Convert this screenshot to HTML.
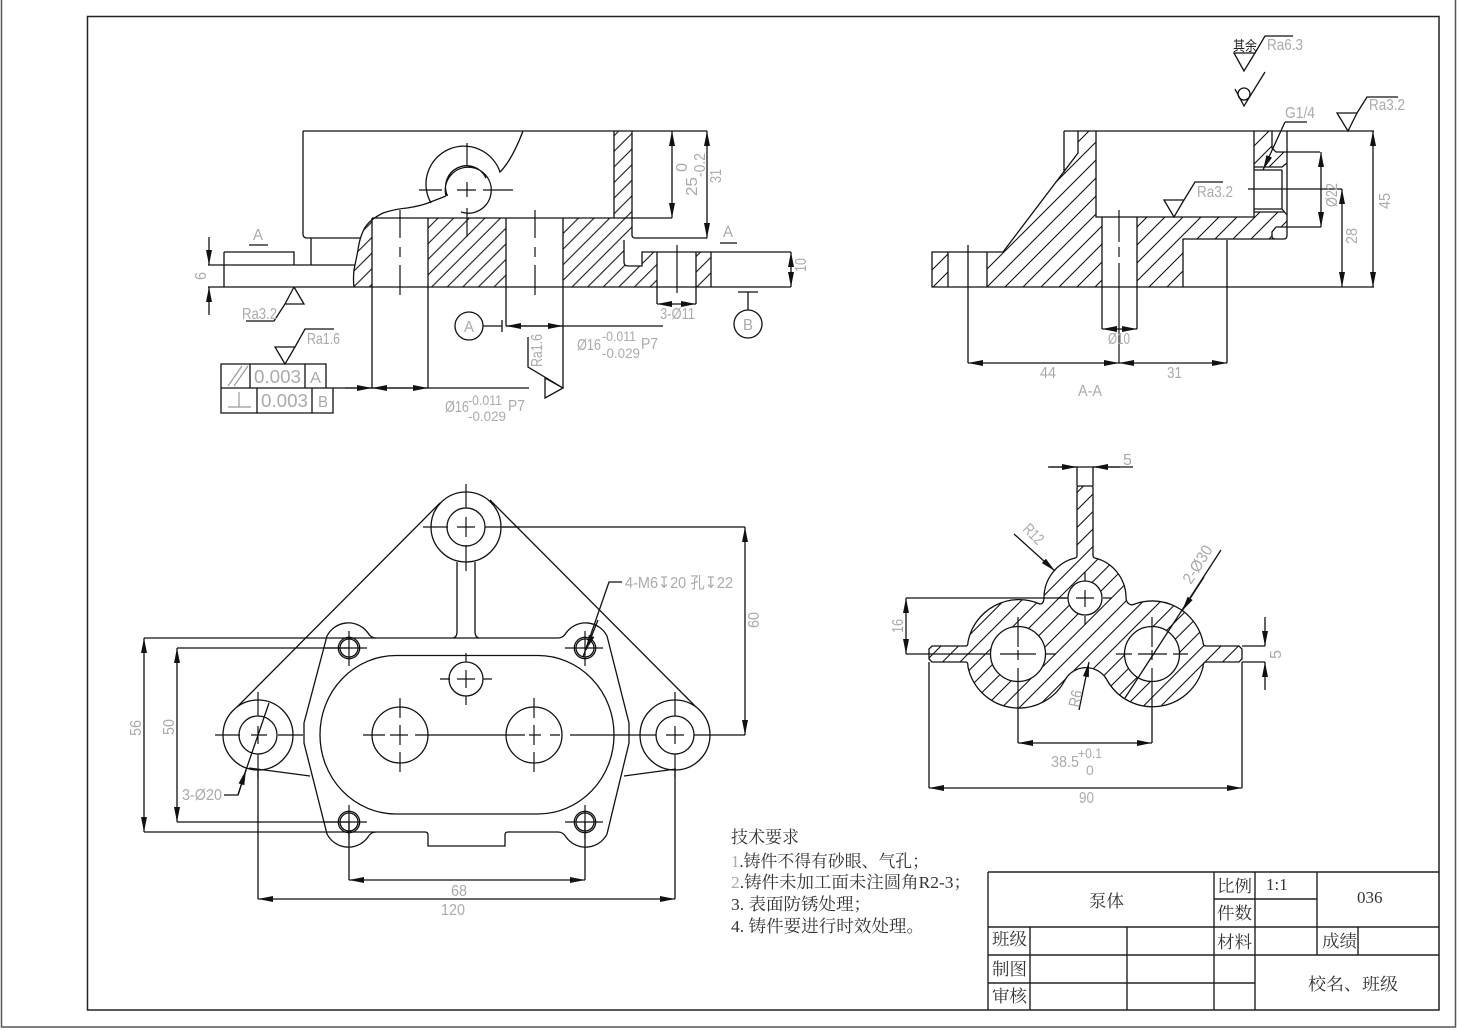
<!DOCTYPE html>
<html><head><meta charset="utf-8"><style>
html,body{margin:0;padding:0;background:#fff;width:1457px;height:1031px;overflow:hidden}
svg{display:block}
.l{fill:none;stroke:#111;stroke-width:1.3}
.w{fill:#fff;stroke:#111;stroke-width:1.3}
.c{fill:none;stroke:#111;stroke-width:1.2}
.da{fill:none;stroke:#111;stroke-width:1.3;marker-start:url(#a);marker-end:url(#a)}
.a1{fill:none;stroke:#111;stroke-width:1.3;marker-end:url(#a)}
.h1{fill:url(#h1);stroke:none}
.h2{fill:url(#h2);stroke:none}
.h3{fill:url(#h3);stroke:none}
text{font-family:"Liberation Sans","Noto Sans CJK SC",sans-serif}
.d{fill:#aaa;font-size:16px}
.s{fill:#aaa;font-size:14px}
.z{font-family:"Liberation Serif","Noto Serif CJK SC",serif;fill:#333;font-size:17px}
.g{fill:#aaa}
</style></head><body>
<svg width="1457" height="1031" viewBox="0 0 1457 1031" xmlns="http://www.w3.org/2000/svg">
<defs>
<pattern id="h1" patternUnits="userSpaceOnUse" width="15.6" height="15.6" patternTransform="translate(1 0)"><path d="M-4 4L4-4M-1 16.6L16.6-1M11.6 19.6L19.6 11.6" stroke="#111" stroke-width="1.1" fill="none"/></pattern>
<pattern id="h2" patternUnits="userSpaceOnUse" width="18" height="18" patternTransform="translate(14 0)"><path d="M-4 4L4-4M-1 19L19-1M14 22L22 14" stroke="#111" stroke-width="1.1" fill="none"/></pattern>
<pattern id="h3" patternUnits="userSpaceOnUse" width="17.5" height="17.5" patternTransform="translate(12 0)"><path d="M-4 4L4-4M-1 18.5L18.5-1M13.5 21.5L21.5 13.5" stroke="#111" stroke-width="1.1" fill="none"/></pattern>
<marker id="a" markerUnits="userSpaceOnUse" markerWidth="20" markerHeight="10" refX="0" refY="0" orient="auto-start-reverse" overflow="visible"><path d="M0 0L-15-3L-15 3Z" fill="#111"/></marker>
</defs>
<rect width="1457" height="1031" fill="#fff"/>
<path d="M1.5 0V1027H1455.5V0" fill="none" stroke="#555" stroke-width="1.5"/>
<rect x="87.5" y="16.5" width="1351.5" height="993.5" fill="none" stroke="#222" stroke-width="1.5"/>

<!-- top-left view -->
<path class="h1" d="M354 287Q353 280 354 270L358 250Q360 235 366 226Q368 222 372 220V287ZM428 218H506V287H428ZM563 218H632V238H624V262Q624 266 628 266H642V252H657V287H563ZM696 252H711V287H696ZM614 131H632V218H614Z"/>
<path class="l" d="M303 131H707M303 131V234Q303 238 307 238H360M311 238V265M224 252H294V265M208 265H355M208 287H791M224 252V287"/>
<path class="l" d="M354 287Q353 280 354 270L358 250Q360 235 366 226Q371 219 383 213Q395 209 407 208Q420 206 428 203L446 196M372 218H672"/>
<path class="l" d="M431 203A38 38 0 1 1 500 172Q512 160 523 131"/>
<path class="l" d="M446 196A23 23 0 1 1 461 212M447.500 196A20.500 20.500 0 0 1 486 178"/>
<path class="l" d="M372 218V388M428 218V388M506 218V326M563 218V388M614 131V218M632 131V235Q632 238 635 238H707M624 240V262Q624 266 628 266H642V252H791M657 252V304M696 252V304M711 252V287"/>
<path class="c" d="M419 190H442M457 190H476M483 190H513M467 143V166M467 182V197M467 208V237M400 210V238M400 247V257M400 265V295M535 210V238M535 247V257M535 265V295M677 245V293"/>
<path class="da" d="M672 131V218"/><path class="da" d="M707 131V238"/><path class="da" d="M791 252V287"/>
<path class="a1" d="M209 237V265"/><path class="a1" d="M209 315V287"/>
<path class="da" d="M657 304H696"/>
<path class="l" d="M506 326H663"/><path class="a1" d="M535 326H506"/><path class="a1" d="M535 326H563"/>
<path class="l" d="M333 388H529"/><path class="a1" d="M345 388H372"/><path class="a1" d="M400 388H372"/><path class="a1" d="M400 388H428"/>
<ellipse class="l" cx="469" cy="326" rx="14" ry="14"/><path class="l" d="M483 326H502M502 320V332"/>
<ellipse class="l" cx="748" cy="324" rx="14" ry="14"/><path class="l" d="M748 310V292M738 292H758"/>
<text class="d" x="464" y="332" textLength="10" lengthAdjust="spacingAndGlyphs">A</text><text class="d" x="743" y="330" textLength="10" lengthAdjust="spacingAndGlyphs">B</text>
<text class="d" x="253" y="240" textLength="10" lengthAdjust="spacingAndGlyphs">A</text><path class="l" d="M249 245H268"/>
<text class="d" x="723" y="237" textLength="10" lengthAdjust="spacingAndGlyphs">A</text><path class="l" d="M720 243H737"/>
<text class="d" transform="translate(206 280) rotate(-90)" textLength="8" lengthAdjust="spacingAndGlyphs">6</text>
<text class="d" transform="translate(721 183) rotate(-90)" textLength="14" lengthAdjust="spacingAndGlyphs">31</text>
<text class="d" transform="translate(697 196) rotate(-90)" textLength="19" lengthAdjust="spacingAndGlyphs">25</text>
<text class="d" transform="translate(687 172) rotate(-90)" textLength="9" lengthAdjust="spacingAndGlyphs">0</text>
<text class="d" transform="translate(705 177) rotate(-90)" textLength="24" lengthAdjust="spacingAndGlyphs">-0.2</text>
<text class="d" transform="translate(806 272) rotate(-90)" textLength="14" lengthAdjust="spacingAndGlyphs">10</text>
<text class="d" x="660" y="319" textLength="35" lengthAdjust="spacingAndGlyphs">3-Ø11</text>
<!-- Ra -->
<path class="l" d="M294 287L285 304H304L294 287M285 304L274 321H246"/>
<text class="d" x="242" y="319" textLength="35" lengthAdjust="spacingAndGlyphs">Ra3.2</text>
<path class="l" d="M275 347H295L285 364ZM295 347L305 329H334"/>
<text class="d" x="307" y="344" textLength="33" lengthAdjust="spacingAndGlyphs">Ra1.6</text>
<path class="l" d="M563 388L545 378V398ZM563 388L528 367V337"/>
<text class="d" transform="translate(542 367) rotate(-90)" textLength="33" lengthAdjust="spacingAndGlyphs">Ra1.6</text>
<!-- FCF -->
<path class="l" d="M221 364H326V388H221ZM221 388H333V413H221ZM250 364V388M305 364V388M257 388V413M312 388V413"/>
<path d="M228 386L242 366M234 386L248 366M228 407H251M239 392V407" fill="none" stroke="#999" stroke-width="1.2"/>
<text class="d" x="254" y="383" textLength="47" lengthAdjust="spacingAndGlyphs" style="font-size:18px">0.003</text>
<text class="d" x="261" y="407" textLength="47" lengthAdjust="spacingAndGlyphs" style="font-size:18px">0.003</text>
<text class="d" x="310" y="383" textLength="11" lengthAdjust="spacingAndGlyphs">A</text><text class="d" x="318" y="407" textLength="10" lengthAdjust="spacingAndGlyphs">B</text>
<!-- tolerance texts -->
<text class="d" x="577" y="350" textLength="24" lengthAdjust="spacingAndGlyphs">Ø16</text>
<text class="s" x="602" y="341" textLength="34" lengthAdjust="spacingAndGlyphs">-0.011</text>
<text class="s" x="602" y="358" textLength="38" lengthAdjust="spacingAndGlyphs">-0.029</text>
<text class="d" x="641" y="349" textLength="17" lengthAdjust="spacingAndGlyphs">P7</text>
<text class="d" x="445" y="412" textLength="24" lengthAdjust="spacingAndGlyphs">Ø16</text>
<text class="s" x="468" y="405" textLength="34" lengthAdjust="spacingAndGlyphs">-0.011</text>
<text class="s" x="468" y="421" textLength="38" lengthAdjust="spacingAndGlyphs">-0.029</text>
<text class="d" x="508" y="411" textLength="17" lengthAdjust="spacingAndGlyphs">P7</text>

<!-- top-right view -->
<path class="h2" d="M932 252H948V287H932ZM1078 131H1096V217H1102V287H987V252H1003L1078 153ZM1137 217H1254V212H1285L1287 215V227H1276L1272 232V239H1183V287H1137ZM1254 131H1272V148L1276 152H1287V163L1282 167H1254Z"/>
<path class="l" d="M1064 131H1374M1064 131V173M1078 131V153L1003 252H932V287H1374M948 252V287M987 252V287M1096 131V217H1254V131M1102 217V329M1137 217V329M1183 287V239H1284Q1287 239 1287 235V131"/>
<path class="l" d="M1254 167H1282L1287 163M1254 170H1282M1282 170V209L1287 215M1254 209H1282M1254 212H1285M1272 131V148L1276 152H1320M1276 227H1321M1276 227L1272 232V236Q1272 239 1275 239M1227 240V363M968 245V363M1248 189H1342"/>
<path class="c" d="M1119 210V242M1119 247V257M1119 263V363"/>
<path class="a1" d="M1119 329H1102"/><path class="a1" d="M1119 329H1137"/>
<path class="da" d="M968 363H1119"/><path class="da" d="M1119 363H1227"/>
<path class="da" d="M1321 152V227"/><path class="da" d="M1342 189V287"/><path class="da" d="M1373 131V287"/>
<text class="d" x="1108" y="344" textLength="22" lengthAdjust="spacingAndGlyphs">Ø10</text>
<text class="d" x="1040" y="378" textLength="16" lengthAdjust="spacingAndGlyphs">44</text>
<text class="d" x="1167" y="378" textLength="15" lengthAdjust="spacingAndGlyphs">31</text>
<text class="d" x="1078" y="396" textLength="24" lengthAdjust="spacingAndGlyphs">A-A</text>
<text class="d" transform="translate(1337 207) rotate(-90)" textLength="24" lengthAdjust="spacingAndGlyphs">Ø22</text>
<text class="d" transform="translate(1357 244) rotate(-90)" textLength="16" lengthAdjust="spacingAndGlyphs">28</text>
<text class="d" transform="translate(1390 209) rotate(-90)" textLength="16" lengthAdjust="spacingAndGlyphs">45</text>
<path class="a1" d="M1285 122L1263 170"/><path class="l" d="M1285 122H1307"/>
<text class="d" x="1285" y="118" textLength="30" lengthAdjust="spacingAndGlyphs">G1/4</text>
<path class="l" d="M1348 131L1337 113H1357ZM1357 113L1367 97H1398"/>
<text class="d" x="1369" y="110" textLength="36" lengthAdjust="spacingAndGlyphs">Ra3.2</text>
<path class="l" d="M1174 217L1164 200H1184ZM1184 200L1195 182H1223"/>
<text class="d" x="1197" y="197" textLength="36" lengthAdjust="spacingAndGlyphs">Ra3.2</text>
<path class="l" d="M1244 71L1234 53H1255ZM1255 53L1265 36H1293"/>
<text class="d" x="1267" y="50" textLength="36" lengthAdjust="spacingAndGlyphs">Ra6.3</text>
<text x="1233" y="51" font-size="14" fill="#222" textLength="24" lengthAdjust="spacingAndGlyphs">其余</text>
<path class="l" d="M1235 89L1244 106L1265 72"/><circle class="l" cx="1244" cy="94" r="6"/>

<!-- bottom-left view -->
<path class="l" d="M440 503L236 708M490 500L699 710"/>
<circle class="w" cx="466" cy="527" r="35"/><circle class="l" cx="466" cy="527" r="19"/>
<circle class="w" cx="258" cy="735" r="35"/><circle class="l" cx="258" cy="735" r="19"/>
<circle class="w" cx="675" cy="735" r="35"/><circle class="l" cx="675" cy="735" r="19"/>
<path class="l" d="M457 562V632Q457 637 453 638M475 562V632Q475 637 479 638"/>
<path class="l" d="M327 636A24 24 0 0 1 368 633Q371 638 376 638H558Q563 638 566 633A24 24 0 0 1 607 636L629 723V743L607 834A24 24 0 0 1 566 837Q563 832 558 832H508Q505 832 505 835V846H428V835Q428 832 425 832H376Q371 832 368 837A24 24 0 0 1 327 834L304 743V723Z"/>
<path class="l" d="M249 768L310 776M676 769L624 776"/>
<rect class="l" x="320" y="655.500" width="294" height="158.500" rx="76" ry="79"/>
<g class="l">
<circle cx="349" cy="648" r="10.700"/><circle cx="349" cy="648" r="9"/>
<circle cx="585" cy="648" r="10.700"/><circle cx="585" cy="648" r="9"/>
<circle cx="349" cy="822" r="10.700"/><circle cx="349" cy="822" r="9"/>
<circle cx="585" cy="822" r="10.700"/><circle cx="585" cy="822" r="9"/>
<circle cx="466" cy="679" r="17"/><circle cx="400" cy="735" r="28"/><circle cx="534" cy="735" r="28"/>
</g>
<path class="c" d="M423 527H448M457 527H475M485 527H520M466 484V508M466 517V537M466 545V571
M215 735H240M251 735H267M278 735H303
M632 735H656M666 735H684M694 735H745M258 692V716M258 726V744M258 754V778M675 692V716M675 726V744M675 754V778
M363 735H385M390 735H408M415 735H495M495 735H525M529 735H541M550 735H560M570 735H639
M400 698V718M400 725V745M400 752V772M534 698V718M534 725V745M534 752V772
M440 679H450M457 679H475M483 679H492M466 653V662M466 670V688M466 696V705
M323 648H367M349 631V666M565 648H603M585 631V666M323 822H367M349 805V839M565 822H603M585 805V839"/>
<path class="l" d="M502 527H745M144 638H376M177 648H349M144 832H376M177 822H349M349 822V880M585 822V880M258 770V899M675 770V899"/>
<path class="da" d="M745 527V735"/><path class="da" d="M144 638V832"/><path class="da" d="M177 648V822"/>
<path class="da" d="M349 880H585"/><path class="da" d="M258 899H675"/>
<path class="l" d="M224 795H238L246 770L269 703"/><path class="a1" d="M238 795L246 770"/>
<path class="l" d="M622 582H609L583 657"/><path class="a1" d="M598 620L586 650"/>
<text class="d" x="182" y="800" textLength="40" lengthAdjust="spacingAndGlyphs">3-Ø20</text>
<text class="d" x="625" y="588" textLength="108" lengthAdjust="spacingAndGlyphs">4-M6↧20 孔↧22</text>
<text class="d" transform="translate(759 628) rotate(-90)" textLength="16" lengthAdjust="spacingAndGlyphs">60</text>
<text class="d" transform="translate(141 736) rotate(-90)" textLength="16" lengthAdjust="spacingAndGlyphs">56</text>
<text class="d" transform="translate(174 735) rotate(-90)" textLength="16" lengthAdjust="spacingAndGlyphs">50</text>
<text class="d" x="451" y="896" textLength="16" lengthAdjust="spacingAndGlyphs">68</text>
<text class="d" x="441" y="915" textLength="24" lengthAdjust="spacingAndGlyphs">120</text>

<!-- bottom-right view -->
<path class="h3" d="M932 646H966Q968 646 968 642A52 52 0 0 1 1040 604Q1044 604 1044 597A41 41 0 0 1 1075 558Q1077 558 1077 555V488Q1077 486 1079 486H1091Q1093 486 1093 488V555Q1093 558 1095 558A41 41 0 0 1 1126 597Q1126 604 1132 605A52 52 0 0 1 1203 642Q1203 646 1206 646H1239L1242 649V659L1239 662H1206Q1203 662 1203 667A52 52 0 0 1 1107 680A24 24 0 0 0 1065 680A52 52 0 0 1 968 667Q968 662 966 662H932L929 659V649Z"/>
<path class="l" d="M932 646H966Q968 646 968 642A52 52 0 0 1 1040 604Q1044 604 1044 597A41 41 0 0 1 1075 558Q1077 558 1077 555V488Q1077 486 1079 486H1091Q1093 486 1093 488V555Q1093 558 1095 558A41 41 0 0 1 1126 597Q1126 604 1132 605A52 52 0 0 1 1203 642Q1203 646 1206 646H1239L1242 649V659L1239 662H1206Q1203 662 1203 667A52 52 0 0 1 1107 680A24 24 0 0 0 1065 680A52 52 0 0 1 968 667Q968 662 966 662H932L929 659V649Z"/>
<circle class="w" cx="1085" cy="598" r="17"/><circle class="w" cx="1018" cy="654" r="27.500"/><circle class="w" cx="1152" cy="654" r="27.500"/>
<path class="c" d="M967 654H990M1000 654H1036M1046 654H1056M1116 654H1132M1138 654H1167M1173 654H1188M1018 617V647M1018 650V660M1018 668V706M1152 617V647M1152 650V660M1152 668V706M1058 598H1067M1076 598H1094M1103 598H1112M1085 572V581M1085 590V607M1085 616V625"/>
<path class="l" d="M1077 467V486M1093 467V486M1048 467H1133M906 598H1068M906 654H970M1242 646H1265M1242 662H1265M1018 706V743M1152 706V743M929 662V788M1242 662V788"/>
<path class="a1" d="M1050 467H1077"/><path class="a1" d="M1120 467H1093"/>
<path class="da" d="M906 598V654"/><path class="a1" d="M1265 617V646"/><path class="a1" d="M1265 690V662"/>
<path class="da" d="M1018 743H1152"/><path class="da" d="M929 788H1242"/>
<path class="a1" d="M1014 534L1055 571"/><path class="l" d="M1221 550L1125 698"/><path class="a1" d="M1204 577L1182 611"/><path class="a1" d="M1079 710L1089 662"/>
<text class="d" x="1123" y="465" textLength="9" lengthAdjust="spacingAndGlyphs">5</text>
<text class="d" transform="translate(1022 530) rotate(45)" textLength="22" lengthAdjust="spacingAndGlyphs">R12</text>
<text class="d" transform="translate(1191 585) rotate(-58)" textLength="42" lengthAdjust="spacingAndGlyphs">2-Ø30</text>
<text class="d" transform="translate(1079 708) rotate(-78)" textLength="17" lengthAdjust="spacingAndGlyphs">R6</text>
<text class="d" transform="translate(903 633) rotate(-90)" textLength="14" lengthAdjust="spacingAndGlyphs">16</text>
<text class="d" transform="translate(1281 659) rotate(-90)" textLength="9" lengthAdjust="spacingAndGlyphs">5</text>
<text class="d" x="1051" y="767" textLength="28" lengthAdjust="spacingAndGlyphs">38.5</text>
<text class="s" x="1078" y="758" textLength="24" lengthAdjust="spacingAndGlyphs">+0.1</text>
<text class="s" x="1086" y="775">0</text>
<text class="d" x="1079" y="803" textLength="15" lengthAdjust="spacingAndGlyphs">90</text>

<!-- notes -->
<text class="z" x="731" y="843" textLength="68" lengthAdjust="spacingAndGlyphs">技术要求</text>
<text class="z" x="731" y="867" textLength="198" lengthAdjust="spacingAndGlyphs"><tspan class="g">1</tspan>.铸件不得有砂眼、气孔；</text>
<text class="z" x="731" y="888" textLength="240" lengthAdjust="spacingAndGlyphs"><tspan class="g">2</tspan>.铸件未加工面未注圆角R2-3；</text>
<text class="z" x="731" y="910" textLength="140" lengthAdjust="spacingAndGlyphs">3. 表面防锈处理；</text>
<text class="z" x="731" y="932" textLength="193" lengthAdjust="spacingAndGlyphs">4. 铸件要进行时效处理。</text>

<!-- title block -->
<path d="M988 872H1439M1214 899H1317M988 927H1439M988 955H1439M988 983H1255M988 872V1010M1030 927V1010M1127 927V1010M1214 872V1010M1255 872V1010M1317 872V955M1358 927V955" fill="none" stroke="#222" stroke-width="1.4"/>
<text class="z" x="1089" y="907" textLength="35" lengthAdjust="spacingAndGlyphs">泵体</text>
<text class="z" x="1217" y="892" textLength="35" lengthAdjust="spacingAndGlyphs">比例</text>
<text class="z" x="1217" y="919" textLength="35" lengthAdjust="spacingAndGlyphs">件数</text>
<text class="z" x="1217" y="948" textLength="35" lengthAdjust="spacingAndGlyphs">材料</text>
<text class="z" x="1322" y="947" textLength="35" lengthAdjust="spacingAndGlyphs">成绩</text>
<text class="z" x="992" y="945" textLength="35" lengthAdjust="spacingAndGlyphs">班级</text>
<text class="z" x="992" y="975" textLength="35" lengthAdjust="spacingAndGlyphs">制图</text>
<text class="z" x="992" y="1002" textLength="35" lengthAdjust="spacingAndGlyphs">审核</text>
<text class="z" x="1266" y="890">1:1</text>
<text class="z" x="1357" y="903">036</text>
<text class="z" x="1308" y="990" textLength="90" lengthAdjust="spacingAndGlyphs">校名、班级</text>
</svg>
</body></html>
